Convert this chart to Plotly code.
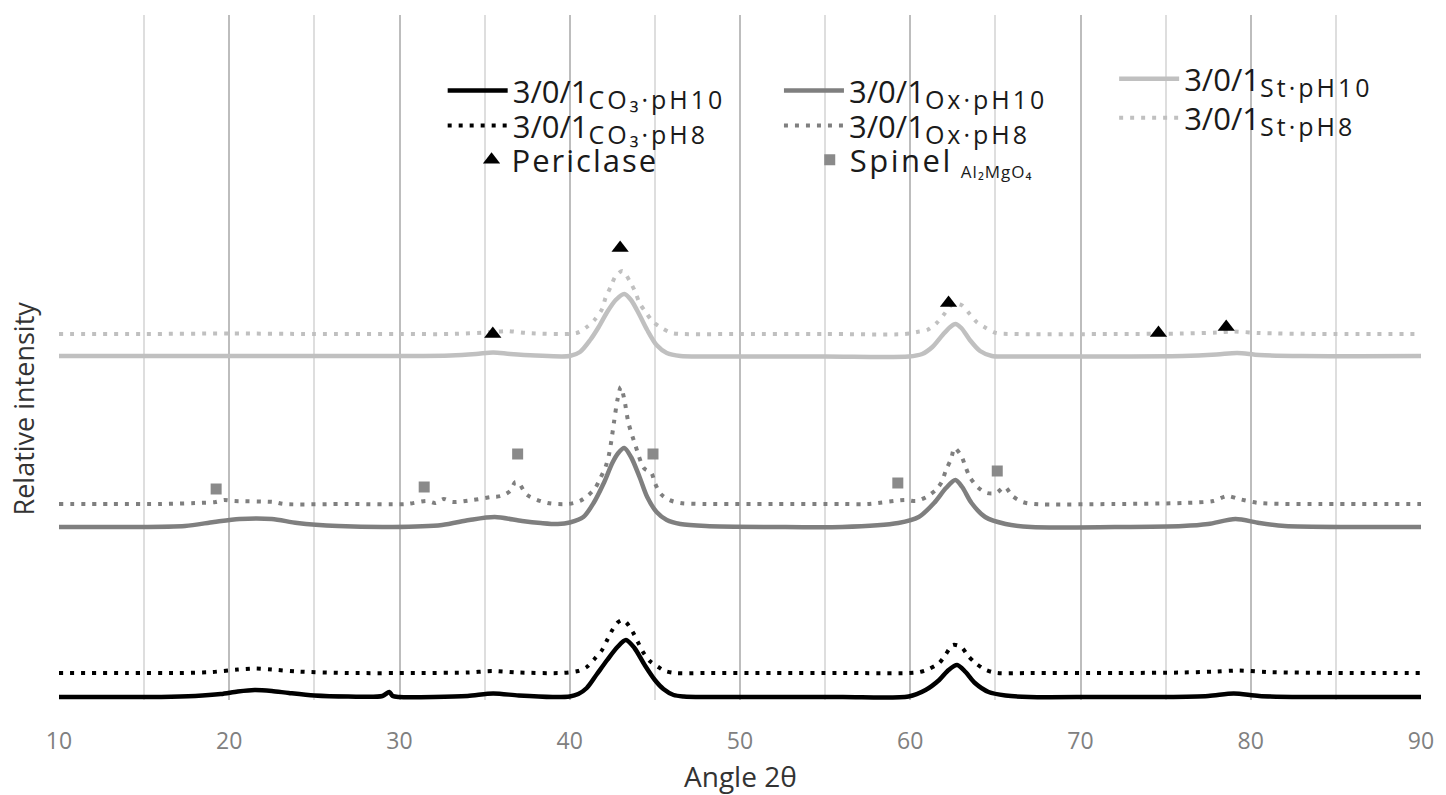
import plotly.graph_objects as go

# XRD patterns, 2θ (degrees) vs. relative intensity (stacked, arbitrary units)
CO3_PH10_X = [10, 13, 16, 18, 19.5, 20.5, 21.5, 22.5, 23.5, 25, 27, 29, 29.4, 29.6, 30, 32, 34, 35.5, 37, 39,
              40.0, 40.5, 41.0, 41.6, 42.2, 42.8, 43.3, 43.8, 44.4, 45.0, 45.5, 46.1, 46.7, 48, 52, 56,
              59.9, 60.9, 61.7, 62.25, 62.75, 63.25, 63.8, 64.6, 65.6, 67, 71, 75, 77.5, 79, 80.5, 83, 87, 90]
CO3_PH10_Y = [3, 3, 3, 4, 6, 8.5, 10, 9, 7, 4.5, 3.5, 4, 8, 4, 3, 3, 4, 6.5, 4.5, 3,
              3.5, 6, 12, 26, 40, 53, 60, 52, 35, 20, 11, 5, 3.5, 3, 3, 3,
              3.5, 10, 20, 30, 35, 28, 17, 8, 4.5, 3, 3, 3, 4, 6.5, 4, 3, 3, 3]

CO3_PH8_X = [10, 14, 17, 19, 20.5, 21.5, 22.5, 24, 27, 31, 34, 35.5, 37, 39.5, 40.5, 41.0, 41.45, 41.9, 42.2, 42.5,
             42.85, 43.1, 43.35, 43.7, 44.0, 44.3, 44.7, 45.2, 45.6, 46.2, 48, 52, 56, 59.9, 60.55, 61.1, 61.7,
             62.1, 62.5, 63.0, 63.4, 63.9, 64.45, 65.1, 67, 72, 76, 78, 79.3, 81, 85, 90]
CO3_PH8_Y = [27, 27, 27, 28, 30.5, 31.5, 30.5, 28.5, 27, 27, 27.5, 29, 27.5, 27, 29, 33, 41, 50, 60, 70,
             78, 80, 77, 68, 58, 48, 39, 33, 29, 27, 27, 27, 27, 27, 28, 31, 37,
             46, 55, 53, 44, 36, 30, 27, 27, 27, 27.5, 28.5, 29.5, 28, 27, 27]

OX_PH10_X = [10, 14, 17.4, 19.1, 20.6, 22.5, 24.0, 26.4, 29.6, 32.5, 34.1, 35.6, 37.2, 38.3, 39.3, 40.0, 40.8,
             41.4, 42.0, 42.5, 42.85, 43.2, 43.6, 44.1, 44.55, 45.1, 45.7, 46.5, 48, 52, 56, 59.3, 60.5, 61.4,
             62.1, 62.65, 63.05, 63.6, 64.4, 65.6, 67.1, 72, 76, 77.5, 79.1, 80.5, 82, 86, 90]
OX_PH10_Y = [173, 173, 174, 178, 181, 181, 177, 174, 173, 175, 180, 183, 179, 177, 176, 177.5, 183,
             197, 217, 237, 247, 252, 243, 223, 203, 188, 180, 176, 174, 173, 173, 177, 183, 197,
             212, 220, 213, 197, 183, 176, 173, 173, 174, 176, 181, 177, 174, 173, 173]

OX_PH8_X = [10, 13, 16, 18, 19.2, 19.7, 20.3, 22.6, 23.2, 27, 30.4, 31.6, 32.1, 32.6, 33.1, 34.3, 35.4, 35.95,
            36.5, 36.8, 37.0, 37.5, 38.7, 39.9, 40.6, 41.1, 41.5, 41.8, 42.1, 42.3, 42.45, 42.6, 42.8, 43.0,
            43.2, 43.45, 43.85, 44.35, 44.8, 45.0, 45.35, 45.85, 46.5, 48, 52, 56, 57.5, 59.7, 60.35, 60.95,
            61.5, 61.85, 62.1, 62.4, 62.6, 63.0, 63.25, 63.5, 63.95, 64.5, 65.05, 65.55, 66.0, 66.6, 67.3,
            72, 76, 77.8, 78.6, 79.3, 80.5, 84, 90]
OX_PH8_Y = [196, 196, 196, 197, 198, 200, 199, 198, 196, 196, 196, 199, 197, 201, 198, 200, 203, 204,
            209, 218, 217, 205, 197, 196, 199, 205, 212, 222, 233, 245, 260, 278, 300, 313,
            301, 277, 255, 232, 227, 217, 206, 200, 197, 196, 196, 196, 196, 200, 199, 203,
            210, 218, 230, 241, 252, 244, 233, 223, 213, 207, 207, 213, 204, 198, 196,
            196, 197, 199, 204, 201, 197, 196, 196]

ST_PH10_X = [10, 15, 20, 25, 30, 33, 34.5, 35.5, 36.5, 38, 40, 40.6, 41.2, 41.7, 42.2, 42.7, 43.2, 43.6,
             44.1, 44.55, 45.1, 45.7, 46.5, 48, 55, 59.9, 60.7, 61.3, 61.9, 62.35, 62.65, 63.0, 63.5, 64.1,
             64.8, 65.6, 70, 76, 78, 79.2, 80.5, 83, 90]
ST_PH10_Y = [344, 344, 344, 344, 344, 344.5, 346, 347.5, 346, 344.5, 344, 348, 360, 373, 388, 400, 406, 400,
             385, 370, 355, 347, 344, 343.5, 343.5, 343.5, 346, 353, 365, 373, 376, 372, 360, 349,
             344, 343.5, 343.5, 344, 345.5, 347, 345, 344, 344]

ST_PH8_X = [10, 15, 20, 25, 30, 33, 35.5, 36.3, 37.5, 40.4, 41.0, 41.5, 41.9, 42.1, 42.4, 42.7, 43.1, 43.55,
            43.85, 44.1, 44.5, 44.9, 45.5, 46.0, 46.6, 50, 55, 59.7, 60.4, 61.0, 61.55, 62.0, 62.5, 63.0,
            63.5, 63.9, 64.45, 65.05, 66, 72, 76, 78, 79, 80.5, 84, 90]
ST_PH8_Y = [366, 366, 366.5, 366, 366, 366, 368, 369, 367, 367, 373, 381, 391, 402, 413, 424, 429, 418,
            408, 397, 387, 378, 371, 367, 366, 366, 366, 366, 368, 370, 377, 386, 396, 395,
            386, 378, 372, 367, 366, 366, 366.5, 367.5, 368.5, 367, 366, 366]

# Phase reflections
PERICLASE_X = [35.48, 42.96, 62.25, 74.58, 78.56]
PERICLASE_Y = [366, 452, 397, 367, 373]
SPINEL_X = [19.23, 31.45, 36.94, 44.89, 59.27, 65.11]
SPINEL_Y = [211, 213, 246, 246, 217, 229]

X_TICKS = [10, 20, 30, 40, 50, 60, 70, 80, 90]

BLACK = "#000000"
GREY = "#7f7f7f"
LIGHT = "#c0c0c0"
DOT = "4px,7px"
FONT = "Open Sans"
LEGEND_FONT = dict(family=FONT, size=31, color="#1a1a1a")


def sample_label(sample):
    return ("3/0/1<sub><span style='font-size:25px;letter-spacing:3px'>"
            + sample + "</span></sub>")


fig = go.Figure()


def curve(x, y, sample, color, dotted, legend):
    fig.add_trace(go.Scatter(
        x=x, y=y, mode="lines", name=sample_label(sample), legend=legend,
        line=dict(color=color, width=4 if dotted else 4.5, dash=DOT if dotted else "solid",
                  shape="spline", smoothing=0.8),
        hoverinfo="skip",
    ))


curve(CO3_PH10_X, CO3_PH10_Y, "CO₃·pH10", BLACK, False, "legend")
curve(CO3_PH8_X, CO3_PH8_Y, "CO₃·pH8", BLACK, True, "legend2")
curve(OX_PH10_X, OX_PH10_Y, "Ox·pH10", GREY, False, "legend4")
curve(OX_PH8_X, OX_PH8_Y, "Ox·pH8", GREY, True, "legend5")
curve(ST_PH10_X, ST_PH10_Y, "St·pH10", LIGHT, False, "legend7")
curve(ST_PH8_X, ST_PH8_Y, "St·pH8", LIGHT, True, "legend8")

fig.add_trace(go.Scatter(
    x=PERICLASE_X, y=PERICLASE_Y, mode="markers",
    name="<span style='letter-spacing:2px'>Periclase</span>", legend="legend3",
    marker=dict(symbol="triangle-up", size=15, color=BLACK), hoverinfo="skip",
))
fig.add_trace(go.Scatter(
    x=SPINEL_X, y=SPINEL_Y, mode="markers",
    name=("<span style='letter-spacing:2.5px'>Spinel</span> "
          "<sub><span style='font-size:17px;letter-spacing:1px'>Al₂MgO₄</span></sub>"),
    legend="legend6",
    marker=dict(symbol="square", size=11, color="#8a8a8a"), hoverinfo="skip",
))


def legend_box(x, y, itemwidth):
    return dict(x=x, y=y, xanchor="left", yanchor="middle", bgcolor="rgba(0,0,0,0)", borderwidth=0,
                font=LEGEND_FONT, itemwidth=itemwidth)


fig.update_layout(
    width=1446, height=795,
    margin=dict(l=59, r=18, t=15, b=95),
    paper_bgcolor="white", plot_bgcolor="white",
    font=dict(family=FONT, color="#404040"),
    showlegend=True,
    legend=legend_box(0.2817, 0.8891, 60),
    legend2=legend_box(0.2817, 0.8380, 60),
    legend3=legend_box(0.3029, 0.7883, 30),
    legend4=legend_box(0.5286, 0.8891, 60),
    legend5=legend_box(0.5286, 0.8380, 60),
    legend6=legend_box(0.5512, 0.7883, 30),
    legend7=legend_box(0.7747, 0.9066, 60),
    legend8=legend_box(0.7747, 0.8496, 60),
    xaxis=dict(
        range=[10, 90], tickvals=X_TICKS, ticktext=[str(v) for v in X_TICKS],
        showgrid=True, gridcolor="#bdbdbd", gridwidth=2,
        minor=dict(dtick=5, tick0=10, showgrid=True, gridcolor="#dedede", gridwidth=1.5),
        zeroline=False, showline=False, ticks="",
        tickfont=dict(family=FONT, size=23, color="#808080"),
        ticklabelstandoff=25,
    ),
    yaxis=dict(range=[0, 685], showgrid=False, zeroline=False, showticklabels=False, ticks=""),
    annotations=[
        dict(text="Relative intensity", xref="paper", yref="paper", x=-0.0262, y=0.426,
             textangle=-90, showarrow=False, xanchor="center", yanchor="middle",
             font=dict(family=FONT, size=27, color="#333333")),
        dict(text="Angle 2θ", xref="paper", yref="paper", x=0.5, y=-0.111,
             showarrow=False, xanchor="center", yanchor="middle",
             font=dict(family=FONT, size=28, color="#333333")),
    ],
)

fig.write_html("out.html")
